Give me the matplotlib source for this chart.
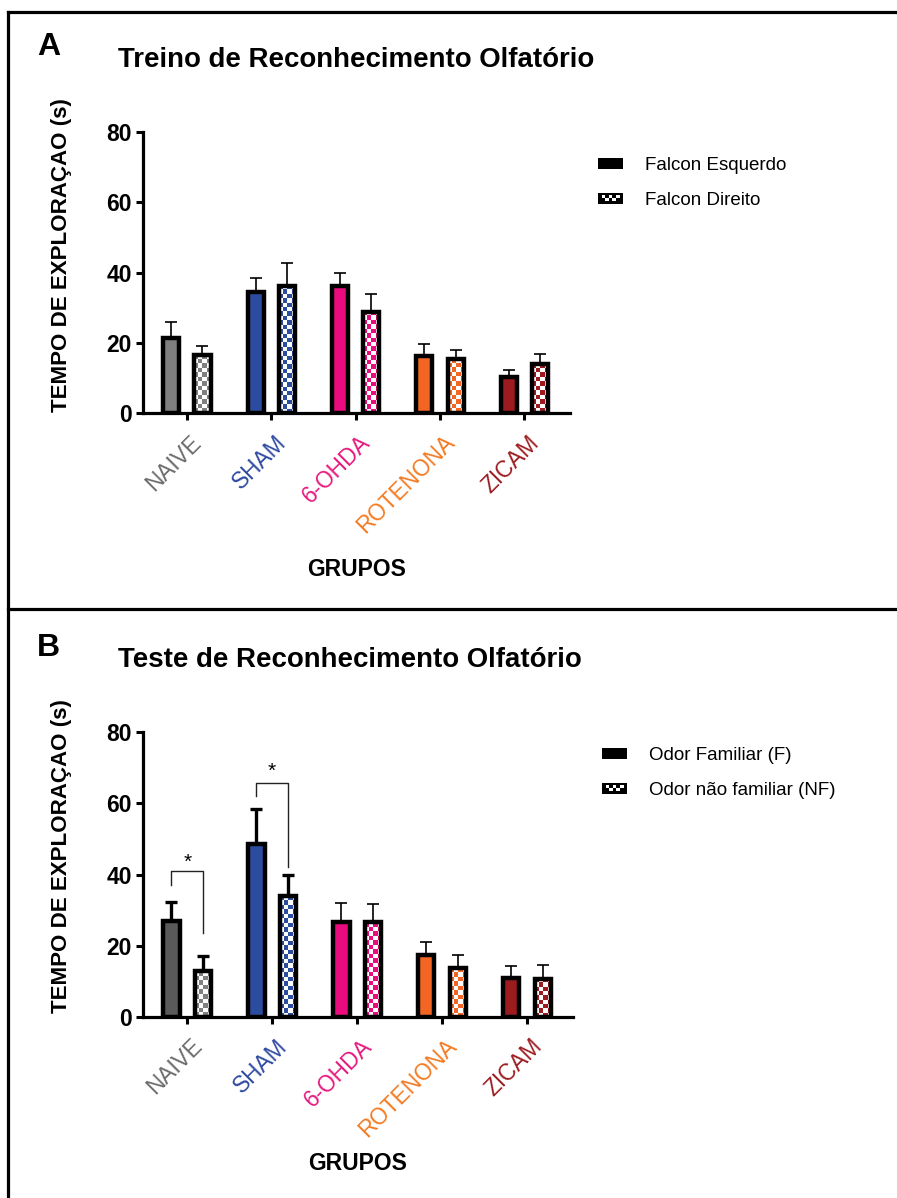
import numpy as np
import matplotlib
matplotlib.use('Agg')
import matplotlib.pyplot as plt
from matplotlib.patches import Rectangle, Patch
from matplotlib.lines import Line2D
from matplotlib.legend_handler import HandlerBase
from matplotlib.colors import to_rgb
import matplotlib.transforms as mtrans

plt.rcParams['font.family'] = ['Liberation Sans', 'DejaVu Sans']

# ---------------- data ----------------
groups = ['NAIVE', 'SHAM', '6-OHDA', 'ROTENONA', 'ZICAM']
label_colors = ['#6b6b6b', '#2e49a0', '#e6197f', '#f47a20', '#9c1c20']
colors_a = ['#7f7f7f', '#2b4c9f', '#ea0b7e', '#f26522', '#9b1b1e']
colors_b = ['#5a5a5a', '#2b4c9f', '#ea0b7e', '#f26522', '#9b1b1e']
checker_b_naive = '#808080'

# Panel A: Treino
a_left = [21.5, 34.6, 36.1, 16.3, 10.2]
a_left_err = [4.3, 3.7, 3.8, 3.5, 2.0]
a_right = [16.6, 36.1, 28.7, 15.5, 14.1]
a_right_err = [2.4, 6.7, 5.1, 2.4, 2.8]

# Panel B: Teste
b_fam = [26.9, 48.6, 26.5, 17.4, 10.9]
b_fam_err = [5.4, 9.7, 5.5, 3.5, 3.45]
b_nf = [12.9, 34.0, 26.5, 13.7, 10.7]
b_nf_err = [4.2, 6.0, 5.1, 3.7, 3.9]
b_err_thick = [True, True, False, False, False]

# significance brackets (panel B): group index, left leg bottom, top, right leg bottom, star y
sig_groups = [0, 1]
sig_left_bottom = [37.1, 62.0]
sig_top = [41.0, 65.7]
sig_right_bottom = [23.5, 42.2]
sig_star_y = [43.3, 69.0]

yticks = [0, 20, 40, 60, 80]

legend_a = ['Falcon Esquerdo', 'Falcon Direito']
legend_b = ['Odor Familiar (F)', 'Odor não familiar (NF)']

W, H = 897, 1198
fig = plt.figure(figsize=(W / 100, H / 100), dpi=100)

def fx(px):
    return px / W

def fy(py):
    return 1 - py / H

OFF = 0.185
BW = 0.19
EDGE_LW = 3.2


def checker_fill(ax, bar, color, cell_px=4.4):
    x0, y0 = bar.get_x(), bar.get_y()
    w, h = bar.get_width(), bar.get_height()
    p0 = ax.transData.transform((x0, y0))
    p1 = ax.transData.transform((x0 + w, y0 + h))
    ncols = max(1, int(round((p1[0] - p0[0]) / cell_px)))
    nrows = max(1, int(round((p1[1] - p0[1]) / cell_px)))
    pat = np.add.outer(np.arange(nrows), np.arange(ncols)) % 2
    c = np.array(to_rgb(color))
    rgb = np.where(pat[..., None] == 0, c, np.array([1.0, 1.0, 1.0]))
    im = ax.imshow(rgb, extent=(x0, x0 + w, y0, y0 + h), aspect='auto',
                   origin='lower', interpolation='nearest', zorder=1.5)
    im.set_clip_path(bar)


class CheckerHandler(HandlerBase):
    def create_artists(self, legend, orig_handle, xdescent, ydescent,
                       width, height, fontsize, trans):
        x0, y0 = -xdescent, -ydescent
        arts = [Rectangle((x0, y0), width, height, facecolor='black',
                          edgecolor='none', transform=trans)]
        cw = width / 7.0
        ch = height / 4.0
        for col, row in [(1, 2), (2, 1), (3, 2), (4, 1), (5, 2)]:
            arts.append(Rectangle((x0 + col * cw, y0 + row * ch), cw, ch,
                                  facecolor='white', edgecolor='none',
                                  transform=trans))
        return arts


def panel(rect, left, left_err, right, right_err, colors, thick, title,
          letter, title_y, letter_y, leg_labels, leg_xy, ylabel_y, xlabel_y,
          naive_checker=None):
    ax = fig.add_axes(rect)
    x = np.arange(len(groups))
    for s in ['top', 'right']:
        ax.spines[s].set_visible(False)
    for s in ['left', 'bottom']:
        ax.spines[s].set_linewidth(2.3)
    ax.set_yticks(yticks)
    ax.set_yticklabels([str(t) for t in yticks], fontsize=16.5, fontweight='bold')
    ax.tick_params(axis='y', length=5, width=2.2, pad=3)
    ax.set_xticks(x)
    ax.tick_params(axis='x', length=5, width=2.2)
    offset = mtrans.ScaledTranslation(3 / 100, -6 / 100, fig.dpi_scale_trans)
    ax.set_xticklabels(groups, rotation=45, ha='right', va='top',
                       rotation_mode='anchor', fontsize=16.3)
    for lab, c in zip(ax.get_xticklabels(), label_colors):
        lab.set_color(c)
        lab.set_transform(lab.get_transform() + offset)
    ax.set_xlim(-0.52, 4.54)
    ax.set_ylim(0, 80)

    ax.bar(x - OFF, left, BW, color=colors, edgecolor='black',
           linewidth=EDGE_LW, zorder=2)
    br = ax.bar(x + OFF, right, BW, facecolor='none', edgecolor='black',
                linewidth=EDGE_LW, zorder=2)
    ax.set_xlim(-0.52, 4.54)
    ax.set_ylim(0, 80)
    for i, b in enumerate(br):
        cc = colors[i]
        if i == 0 and naive_checker is not None:
            cc = naive_checker
        checker_fill(ax, b, cc)

    for i in range(len(groups)):
        lw = 2.4 if thick[i] else 1.2
        ax.errorbar(x[i] - OFF, left[i], yerr=[[0], [left_err[i]]], fmt='none',
                    ecolor='black', elinewidth=lw, capsize=4, capthick=lw,
                    zorder=1)
        ax.errorbar(x[i] + OFF, right[i], yerr=[[0], [right_err[i]]], fmt='none',
                    ecolor='black', elinewidth=lw, capsize=4, capthick=lw,
                    zorder=1)
    ax.set_xlim(-0.52, 4.54)
    ax.set_ylim(0, 80)

    fig.text(fx(62), fy(ylabel_y), 'TEMPO DE EXPLORAÇAO (s)', rotation=90,
             ha='center', va='center', fontsize=16.1, fontweight='bold')
    fig.text(rect[0] + rect[2] / 2, fy(xlabel_y), 'GRUPOS', ha='center',
             va='center', fontsize=16.5, fontweight='bold')
    fig.text(fx(118), fy(title_y), title, ha='left', va='center',
             fontsize=19.9, fontweight='bold')
    fig.text(fx(37), fy(letter_y), letter, ha='left', va='center',
             fontsize=23, fontweight='bold')

    handles = [Patch(facecolor='black'), Patch(facecolor='black', hatch='')]
    fig.legend(handles, leg_labels, loc='upper left',
               bbox_to_anchor=(fx(leg_xy[0]), fy(leg_xy[1])),
               frameon=False, fontsize=13.5, handlelength=1.35,
               handleheight=0.55, handletextpad=1.15, labelspacing=0.95,
               borderpad=0, borderaxespad=0,
               handler_map={handles[1]: CheckerHandler()})
    return ax


ax_a = panel([fx(143), fy(413.3), fx(570) - fx(143), (413.3 - 131.7) / H],
             a_left, a_left_err, a_right, a_right_err, colors_a,
             [False] * 5, 'Treino de Reconhecimento Olfatório', 'A',
             60, 47, legend_a, (598, 157), 255, 570)

ax_b = panel([fx(143), fy(1016.7), fx(573) - fx(143), (1016.7 - 732.3) / H],
             b_fam, b_fam_err, b_nf, b_nf_err, colors_b,
             b_err_thick, 'Teste de Reconhecimento Olfatório', 'B',
             660, 648, legend_b, (602, 747), 856, 1164,
             naive_checker=checker_b_naive)

# significance brackets
for g, lb, top, rb, sy in zip(sig_groups, sig_left_bottom, sig_top,
                              sig_right_bottom, sig_star_y):
    xl, xr = g - OFF, g + OFF
    ax_b.plot([xl, xl, xr, xr], [lb, top, top, rb], color='#222222', lw=1.0,
              zorder=3, clip_on=False)
    ax_b.text(g, sy, '*', ha='center', va='center', fontsize=15)

# frame lines
fig.add_artist(Line2D([fx(8), fx(8)], [0, fy(12)], color='black', lw=2.3))
fig.add_artist(Line2D([fx(8), 1], [fy(12), fy(12)], color='black', lw=2.3))
fig.add_artist(Line2D([fx(8), 1], [fy(609), fy(609)], color='black', lw=2.3))

fig.savefig('out.png', dpi=100)
